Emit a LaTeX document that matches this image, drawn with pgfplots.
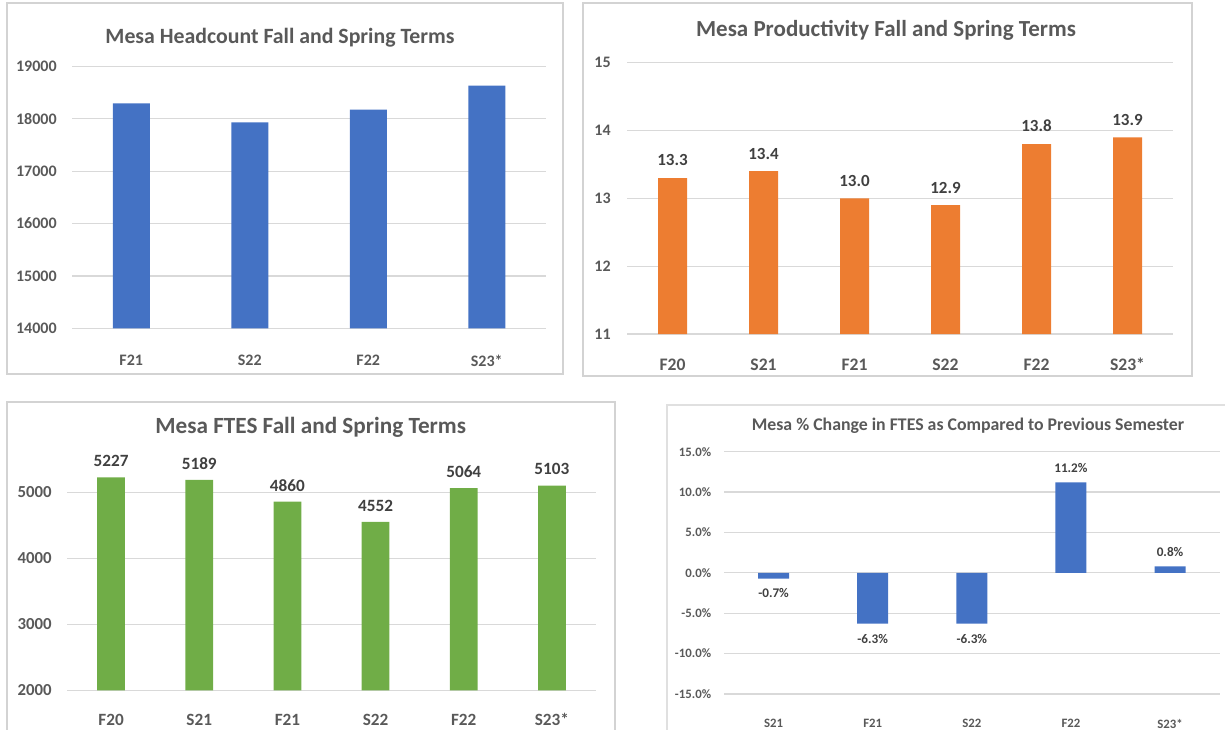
\documentclass[border=0pt]{standalone}
\usepackage{fontspec}
\setmainfont{Carlito}
\usepackage{pgfplots}
\pgfplotsset{compat=1.18}
\definecolor{cblue}{HTML}{4472C4}
\definecolor{corange}{HTML}{ED7D31}
\definecolor{cgreen}{HTML}{70AD47}
\definecolor{ctext}{HTML}{595959}
\definecolor{clab}{HTML}{404040}
\definecolor{cgrid}{HTML}{D9D9D9}
\definecolor{cframe}{HTML}{D3D3D3}
\newcommand{\fs}[1]{\fontsize{#1}{#1}\selectfont}
\pgfplotsset{
  mesa/.style={
    scale only axis,
    anchor=south west,
    axis line style={draw=none},
    tick style={draw=none},
    ymajorgrids,
    grid style={cgrid, line width=0.6pt},
    ybar,
    xtick=data,
    scaled y ticks=false,
    /pgf/number format/assume math mode=true,
    /pgf/number format/1000 sep={},
  }
}
\begin{document}
\begin{tikzpicture}
\useasboundingbox (0,0) rectangle (612.5pt,364.5pt);
\clip (0,0) rectangle (612.5pt,364.5pt);
% panel frames
\draw[cframe, line width=0.8pt] (3.5pt,363pt) rectangle (281.5pt,177.5pt);
\draw[cframe, line width=0.8pt] (291.5pt,363pt) rectangle (596pt,176.5pt);
\draw[cframe, line width=0.8pt] (3.5pt,163.5pt) rectangle (307.5pt,-5pt);
\draw[cframe!70, line width=0.8pt] (333.5pt,162pt) rectangle (620pt,-5pt);
% titles
\node[text=ctext, font=\fs{10.9}\bfseries] at (140pt,345.5pt) {Mesa Headcount Fall and Spring Terms};
\node[text=ctext, font=\fs{11.5}\bfseries] at (443pt,349.5pt) {Mesa Productivity Fall and Spring Terms};
\node[text=ctext, font=\fs{11.6}\bfseries] at (155.35pt,151pt) {Mesa FTES Fall and Spring Terms};
\node[text=ctext, font=\fs{8.9}\bfseries] at (484pt,151.5pt) {Mesa \% Change in FTES as Compared to Previous Semester};

% Panel 1: Headcount
\begin{axis}[mesa, at={(36pt,200.35pt)}, width=237pt, height=131pt,
  xmin=-0.5, xmax=3.5, ymin=14000, ymax=19000,
  ytick={14000,15000,16000,17000,18000,19000},
  yticklabel={\pgfmathprintnumber[fixed,precision=0,1000 sep={}]{\tick}},
  xticklabels={F21,S22,F22,S23*},
  bar width=18.5pt,
  yticklabel style={font=\fs{8}\bfseries, text=ctext, anchor=east, inner sep=0pt, xshift=-7.5pt},
  xticklabel style={font=\fs{8}\bfseries, text=ctext, anchor=center, inner sep=0pt, yshift=-11.85pt}]
\addplot[fill=cblue, draw=none] coordinates {(0,18294) (1,17931) (2,18173) (3,18631)};
\end{axis}

% Panel 2: Productivity
\begin{axis}[mesa, at={(313.5pt,197.5pt)}, width=273pt, height=135.65pt,
  xmin=-0.5, xmax=5.5, ymin=11, ymax=15,
  ytick={11,12,13,14,15},
  xticklabels={F20,S21,F21,S22,F22,S23*},
  bar width=14.5pt,
  yticklabel style={font=\fs{8}\bfseries, text=ctext, anchor=east, inner sep=0pt, xshift=-8pt},
  xticklabel style={font=\fs{8.8}\bfseries, text=ctext, anchor=center, inner sep=0pt, yshift=-11pt},
  nodes near coords={\pgfmathprintnumber[fixed,fixed zerofill,precision=1]{\pgfplotspointmeta}},
  every node near coord/.append style={font=\fs{8.5}\bfseries, text=clab, inner xsep=0pt, inner ysep=5.8pt}]
\addplot[fill=corange, draw=none] coordinates {(0,13.3) (1,13.4) (2,13.0) (3,12.9) (4,13.8) (5,13.9)};
\end{axis}

% Panel 3: FTES
\begin{axis}[mesa, at={(33.5pt,19.35pt)}, width=264.5pt, height=132pt,
  xmin=-0.5, xmax=5.5, ymin=2000, ymax=6000,
  ytick={2000,3000,4000,5000},
  yticklabel={\pgfmathprintnumber[fixed,precision=0,1000 sep={}]{\tick}},
  xticklabels={F20,S21,F21,S22,F22,S23*},
  bar width=13.85pt,
  yticklabel style={font=\fs{8.4}\bfseries, text=ctext, anchor=east, inner sep=0pt, xshift=-7.5pt},
  xticklabel style={font=\fs{8.6}\bfseries, text=ctext, anchor=center, inner sep=0pt, yshift=-10.35pt},
  nodes near coords={\pgfmathprintnumber[fixed,precision=0,1000 sep={}]{\pgfplotspointmeta}},
  every node near coord/.append style={font=\fs{8.6}\bfseries, text=clab, inner xsep=0pt, inner ysep=5pt}]
\addplot[fill=cgreen, draw=none] coordinates {(0,5227) (1,5189) (2,4860) (3,4552) (4,5064) (5,5103)};
\end{axis}

% Panel 4: % change
\begin{axis}[mesa, at={(362pt,17.5pt)}, width=247.8pt, height=121.15pt,
  xmin=-0.5, xmax=4.5, ymin=-15, ymax=15,
  ytick={-15,-10,-5,0,5,10,15},
  yticklabel={\pgfmathprintnumber[fixed,fixed zerofill,precision=1]{\tick}\%},
  xticklabels={S21,F21,S22,F22,S23*},
  bar width=15.5pt,
  yticklabel style={font=\fs{6.4}\bfseries, text=ctext, anchor=east, inner sep=0pt, xshift=-6.25pt},
  xticklabel style={font=\fs{6.4}\bfseries, text=ctext, anchor=center, inner sep=0pt, yshift=-10.5pt},
  nodes near coords={\pgfmathprintnumber[fixed,fixed zerofill,precision=1]{\pgfplotspointmeta}\%},
  nodes near coords align={vertical},
  every node near coord/.append style={font=\fs{6.6}\bfseries, text=clab, inner xsep=0pt, inner ysep=4.9pt}]
\addplot[fill=cblue, draw=none] coordinates {(0,-0.7) (1,-6.3) (2,-6.3) (3,11.2) (4,0.8)};
\end{axis}
\end{tikzpicture}
\end{document}
